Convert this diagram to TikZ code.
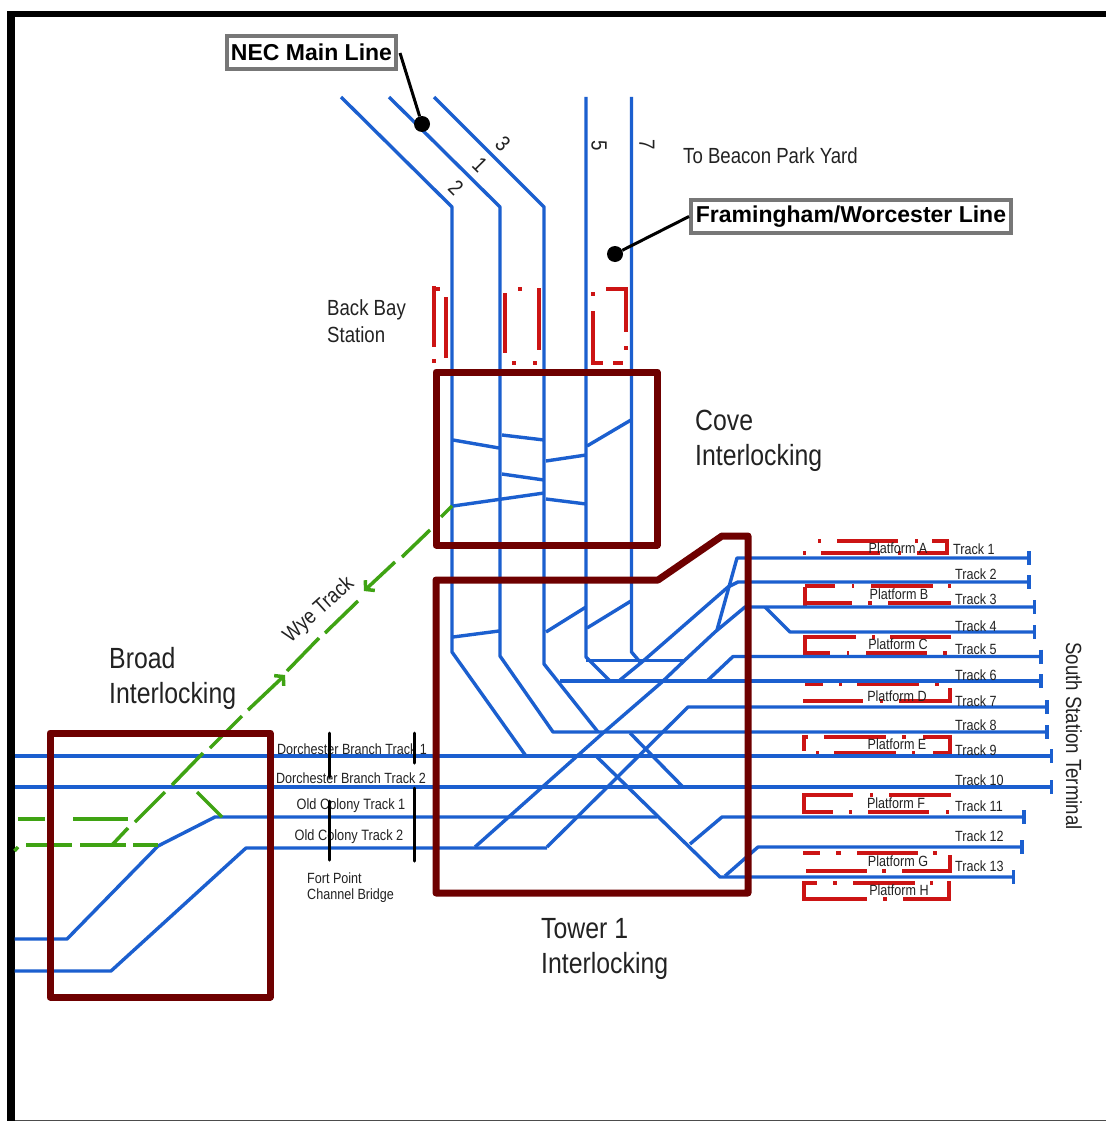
\documentclass[tikz,border=0pt]{standalone}
\usepackage{fontspec}
\setmainfont{Liberation Sans}
\newfontfamily\nrw[FakeStretch=0.85]{Liberation Sans}
\usetikzlibrary{arrows.meta}
\definecolor{trackblue}{HTML}{1B5FCF}
\definecolor{wyegreen}{HTML}{3FA313}
\definecolor{towerred}{HTML}{6E0000}
\definecolor{platred}{HTML}{CC1414}
\definecolor{boxgray}{HTML}{777777}
\definecolor{txt}{HTML}{222222}
\newcommand{\szf}[2]{\nrw\fontsize{#1}{#2}\selectfont}
\newcommand{\platH}[2]{\foreach \a/\b in {#2} \draw[plat] (\a,#1)--(\b,#1);}
\newcommand{\platV}[3]{\draw[plat] (#1,#2-1.75)--(#1,#3+1.75);}
\tikzset{
  track/.style={draw=trackblue,line width=3.4pt,line join=round},
  buffer/.style={draw=trackblue,line width=3.4pt},
  wye/.style={draw=wyegreen,line width=3.5pt},
  tower/.style={draw=towerred,line width=7pt,line join=round},
  plat/.style={draw=platred,line width=3.6pt},
  bridge/.style={draw=black,line width=3pt,line cap=round},
  leader/.style={draw=black,line width=3pt},
  dotmark/.style={circle,fill=black,minimum size=16pt,inner sep=0pt},
  callout/.style={draw=boxgray,line width=4pt,fill=white,inner sep=0pt,font=\bfseries\fontsize{23}{26}\selectfont,text=black},
  small/.style={inner sep=0pt,text=txt,font=\szf{14.8}{17}},
  oldc/.style={inner sep=0pt,text=txt,font=\szf{15}{18}},
  mid/.style={inner sep=0pt,text=txt,align=left,font=\szf{21.9}{27}},
  big/.style={inner sep=0pt,text=txt,align=left,font=\szf{29.2}{35}},
  digit/.style={inner sep=0pt,text=txt,font=\szf{22}{24}},
}
\begin{document}
\begin{tikzpicture}[x=1pt,y=-1pt]
\useasboundingbox (0,0) rectangle (1106,1121);
\fill[white] (0,0) rectangle (1106,1121);
% frame
\fill[black] (7,11) rectangle (1106,17.5);
\fill[black] (7,11) rectangle (14.5,1121);
\fill[black!70] (14.5,1120) rectangle (1106,1121);

% platforms
\platH{541}{818/821,837/898,915/918,932/949}
\platV{947}{541}{553}
\platH{553}{803/806,821/880,898/901,917/949}
\platH{586}{805/835,852/854,871/933,948/951}
\platV{805}{589}{604}
\platH{603}{804/852,868/872,888/951}
\platH{637}{804/856,872/875,890/951}
\platV{805}{637}{653}
\platH{653}{804/830,847/849,866/927,943/947}
\platH{684}{805/823,839/842,857/919,935/939}
\platH{701}{803/863,880/883,899/951}
\platV{950}{690}{701}
\platH{737}{803/808,824/886,902/906,923/951}
\platV{804}{737}{749}
\platH{753}{816/819,834/896,912/915,933/951}
\platV{950}{737}{753}
\platH{795}{803/853,870/873,889/951}
\platV{804}{795}{812}
\platH{812}{803/833,849/852,868/929,946/949}
\platH{853}{803/820,836/841,857/918,933/937}
\platH{871}{806/867,882/886,902/950}
\platV{950}{857}{871}
\platH{883}{803/817,833/837,853/915,930/933}
\platV{804}{883}{899}
\platH{899}{803/867,883/887,903/949}
\platV{949}{883}{899}
% Back Bay platforms
\platH{289}{434/440}
\platV{434}{288}{345}
\draw[plat] (434,359)--(434,363);
\draw[plat] (446,297)--(446,358);
\draw[plat] (505,293)--(505,353);
\draw[plat] (520,287)--(520,291);
\draw[plat] (539,288)--(539,350);
\draw[plat] (514,361)--(514,365);
\draw[plat] (535,361)--(535,365);
\draw[plat] (593,292)--(593,296);
\platV{593}{313}{363}
\platH{363}{593/603,613/623}
\platH{289}{606/628}
\platV{626}{289}{330}
\draw[plat] (626,346)--(626,350);

% main tracks
\draw[track] (341,97)--(452,207)--(452,652)--(526,756);
\draw[track] (389,97)--(500,207)--(500,656)--(553,732)--(1047,732);
\draw[track] (434,97)--(544,207)--(544,664)--(598,732);
\draw[track] (586,97)--(586,657)--(610,681);
\draw[track] (631.5,97)--(631.5,652)--(640,662);
\draw[track] (586,660.5)--(685,660.5);
\draw[track] (560,681)--(1041,681);
% crossovers Cove
\draw[track] (453,440)--(499,448);
\draw[track] (502,435)--(544,440);
\draw[track] (546,461)--(586,455);
\draw[track] (587,446)--(631,420);
\draw[track] (502,474)--(544,480);
\draw[track] (453,506)--(544,493);
\draw[track] (546,499)--(586,504);
% crossovers Tower
\draw[track] (453,637)--(499,631);
\draw[track] (546,632)--(586,607);
\draw[track] (587,628)--(631,601);
% approach ladder
\draw[track] (620,680)--(642,662)--(728,587)--(738,582)--(1029,582);
\draw[track] (717,630)--(737,558)--(1029,558);
\draw[track] (475,847)--(603,733)--(662,682)--(685,660)--(715,632)--(745,607)--(765,607)--(1034,607);
\draw[track] (765,607)--(790,632)--(1034,632);
\draw[track] (707,681)--(733,656.5)--(1041,656.5);
\draw[track] (547,847)--(688,707)--(1047,707);
\draw[track] (597,757)--(720,877)--(1013.5,877);
\draw[track] (630,733)--(683,787);
\draw[track] (690,844)--(722,817)--(1024,817);
\draw[track] (725,876)--(758,847)--(1022,847);
% west side
\draw[track] (14.5,756)--(1051.5,756);
\draw[track] (14.5,787)--(1051.5,787);
\draw[track] (14.5,939)--(67,939)--(158,846)--(215,817)--(657,817);
\draw[track] (14.5,971)--(111,971)--(246,848)--(547,848);
% buffers
\foreach \x/\y in {1029/558,1029/582,1034.5/607,1034.5/632,1041/656.5,1041/681,1047/707,1047/732,1051.5/756,1051.5/787,1024/817,1022/847,1013.5/877}
  \draw[buffer] (\x,\y-7)--(\x,\y+7);

% wye track
\draw[wye] (452,506)--(441,517);
\draw[wye] (430,530)--(402,557);
\draw[wye,-{Straight Barb[length=6pt,width=14pt]}] (395,562)--(364,591);
\draw[wye] (358,601)--(325,633);
\draw[wye] (319,638)--(287,671);
\draw[wye,-{Straight Barb[length=6pt,width=14pt]}] (248,710)--(285,675);
\draw[wye] (242,716)--(210,748);
\draw[wye] (203,753)--(172,785);
\draw[wye] (165,792)--(135,822);
\draw[wye] (128,828)--(112,845);
\draw[wye] (197,792)--(222,817);
\foreach \a/\b in {18/45,73/128} \draw[wye] (\a,819)--(\b,819);
\foreach \a/\b in {26/72,80/126,133/158} \draw[wye] (\a,845)--(\b,845);
\draw[wye] (14.5,851)--(18,847);

% interlocking boxes
\draw[tower] (436,372) rectangle (657,545);
\draw[tower] (436,580)--(658,580)--(722,536)--(748,536)--(748,893)--(436,893)--cycle;
\draw[tower] (50,733) rectangle (270,997);

% labels
\node[small,anchor=center] (pa) at (898,548) {Platform A};
\node[small,anchor=center] (pb) at (899,594) {Platform B};
\node[small,anchor=center] (pc) at (898,644) {Platform C};
\node[small,anchor=center] (pd) at (897,696) {Platform D};
\node[small,anchor=center] (pe) at (897,744) {Platform E};
\node[small,anchor=center] (pf) at (896,803) {Platform F};
\node[small,anchor=center] (pg) at (898,861) {Platform G};
\node[small,anchor=center] (ph) at (899,890) {Platform H};
\foreach \n/\x/\y in {1/953/549,2/955/574,3/955/599,4/955/626,5/955/649,6/955/675,7/955/701,8/955/725,9/955/750,10/955/780,11/955/806,12/955/836,13/955/866}
  \node[small,anchor=west] (t\n) at (\x,\y) {Track \n};
\node[small] (db1) at (352,749) {Dorchester Branch Track 1};
\node[small] (db2) at (351,778) {Dorchester Branch Track 2};
\node[oldc] (oc1) at (351,806) {Old Colony Track 1};
\node[oldc] (oc2) at (349,837) {Old Colony Track 2};
\node[small,anchor=west] (fp) at (307,878) {Fort Point};
\node[small,anchor=west] (cb) at (307,896) {Channel Bridge};
\node[mid,anchor=west] (bb) at (327,321.5) {Back Bay\\Station};
\node[mid,anchor=west] (bp) at (683,156) {To Beacon Park Yard};
\node[mid,rotate=-90] (sst) at (1074,736) {South Station Terminal};
\node[mid,rotate=42,font=\szf{21.5}{27}] (wt) at (319,610) {Wye Track};
\node[big,anchor=west] (cove) at (695,441) {Cove\\Interlocking};
\node[big,anchor=west] (broad) at (109,678.5) {Broad\\Interlocking};
\node[big,anchor=west] (tw) at (541,949) {Tower 1\\Interlocking};
\node[digit,rotate=-45] (d2) at (456,188) {2};
\node[digit,rotate=-45] (d1) at (480,165) {1};
\node[digit,rotate=-45] (d3) at (503,144) {3};
\node[digit,rotate=-90] (d5) at (599,146) {5};
\node[digit,rotate=-90] (d7) at (647,145) {7};

% bridge
\draw[bridge] (329,733)--(329,777);
\draw[bridge] (329,801)--(329,860);
\draw[bridge] (414,733)--(414,763);
\draw[bridge] (414,788)--(414,861);

% callouts
\node[callout,minimum width=169pt,minimum height=33pt] (nec) at (311.5,52.5) {NEC Main Line};
\node[callout,minimum width=320pt,minimum height=33pt] (fw) at (851,216.5) {Framingham/Worcester Line};
\node[dotmark] (necdot) at (422,124) {};
\node[dotmark] (fwdot) at (615,254) {};
\coordinate (necstart) at (400,53);
\draw[leader] (necstart)--(necdot);
\draw[leader] (fw.west)--(fwdot);
\end{tikzpicture}
\end{document}
